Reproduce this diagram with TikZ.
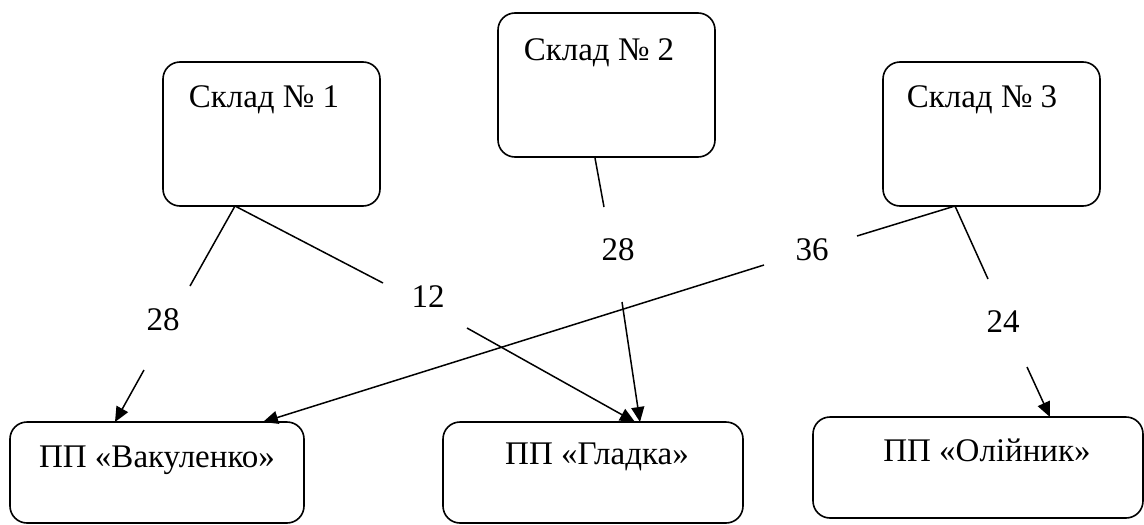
\documentclass[tikz,border=0pt]{standalone}
\usepackage{fontspec}
\setmainfont{Liberation Serif}
\usetikzlibrary{arrows.meta}
\begin{document}
\begin{tikzpicture}[x=1pt,y=-1pt,
  box/.style={draw,line width=1.6pt,rounded corners=17pt,inner sep=0pt},
  txt/.style={inner sep=0pt,font=\fontsize{33}{38}\selectfont},
  conn/.style={line width=1.5pt},
  arr/.style={line width=1.5pt,-{Triangle[length=15pt,width=13pt]}}]
\useasboundingbox (0,0) rectangle (1144,525);
% boxes
\node[box,minimum width=217pt,minimum height=144pt] (s1) at (271.5,134) {};
\node[box,minimum width=217pt,minimum height=144pt] (s2) at (606.5,85) {};
\node[box,minimum width=217pt,minimum height=144pt] (s3) at (991.5,134) {};
\node[box,minimum width=294pt,minimum height=101pt] (v) at (157,472.5) {};
\node[box,minimum width=300pt,minimum height=101pt] (g) at (593,472.5) {};
\node[box,minimum width=330pt,minimum height=101pt] (o) at (978,467.5) {};
% box texts
\node[txt] (ts1) at (264,100) {Склад № 1};
\node[txt] (ts2) at (599,53) {Склад № 2};
\node[txt] (ts3) at (982,100) {Склад № 3};
\node[txt] (tv) at (157,460) {ПП «Вакуленко»};
\node[txt] (tg) at (597,457) {ПП «Гладка»};
\node[txt] (to) at (987,450) {ПП «Олійник»};
% labels
\node[txt] (l1) at (163,320) {28};
\node[txt] (l2) at (428,297) {12};
\node[txt] (l3) at (618,250) {28};
\node[txt] (l4) at (812,250) {36};
\node[txt] (l5) at (1003,322) {24};
% connector points
\coordinate (o1) at (235,206);
\coordinate (o3) at (955,206);
\coordinate (o2) at (595,158);
\coordinate (a1) at (190,286);
\coordinate (b1) at (144,370);
\coordinate (e1) at (115,422);
\coordinate (a2) at (383,283);
\coordinate (b2) at (467,328);
\coordinate (e2) at (635,422);
\coordinate (a3) at (604,207);
\coordinate (b3) at (622,302);
\coordinate (e3) at (640,422);
\coordinate (a4) at (857,236);
\coordinate (b4) at (764,265);
\coordinate (e4) at (263,422);
\coordinate (a5) at (988,279);
\coordinate (b5) at (1027,367);
\coordinate (e5) at (1050,417);
% connectors
\draw[conn] (o1) -- (a1);
\draw[arr] (b1) -- (e1);
\draw[conn] (o1) -- (a2);
\draw[arr] (b2) -- (e2);
\draw[conn] (o2) -- (a3);
\draw[arr] (b3) -- (e3);
\draw[conn] (o3) -- (a4);
\draw[arr] (b4) -- (e4);
\draw[conn] (o3) -- (a5);
\draw[arr] (b5) -- (e5);
\end{tikzpicture}
\end{document}
